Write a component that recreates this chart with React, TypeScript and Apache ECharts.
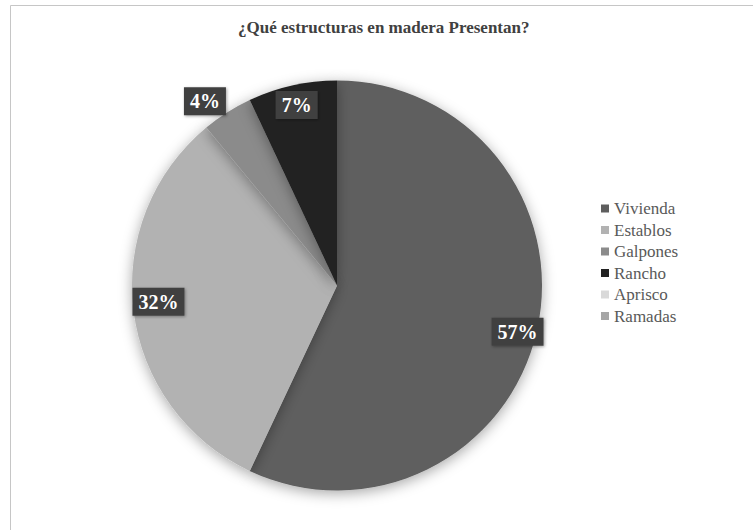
import React, { useEffect, useRef } from "react";
import * as echarts from "echarts";

const titleText = "¿Qué estructuras en madera Presentan?";
const categories = ["Vivienda", "Establos", "Galpones", "Rancho", "Aprisco", "Ramadas"];
const values = [57, 32, 4, 7, 0, 0];
const colors = ["#5e5e5e", "#b2b2b2", "#8b8b8b", "#222222", "#d9d9d9", "#a6a6a6"];
const outsideLabels = ["Galpones"];

const SERIF = "'Liberation Serif', 'Times New Roman', serif";

// fine nudges of label boxes (style only)
const labelNudge: Record<string, number[]> = {
  Vivienda: [0, 6],
  Establos: [5, -7],
  Galpones: [7, -6],
  Rancho: [0, 0],
};

export default function App() {
  const ref = useRef<HTMLDivElement>(null);
  useEffect(() => {
    if (!ref.current) return;
    const chart = echarts.init(ref.current, null, { renderer: "svg" });
    const labelStyle = {
      color: "#ffffff",
      fontFamily: SERIF,
      fontWeight: "bold" as const,
      fontSize: 20,
      backgroundColor: "#404040",
      padding: [5, 6, 3, 6],
      shadowBlur: 3,
      shadowColor: "rgba(0,0,0,0.35)",
      shadowOffsetX: 1,
      shadowOffsetY: 1,
      formatter: (p: any) => `${Math.round(p.percent)}%`,
    };
    const pieData = categories.map((name, i) => ({
      name,
      value: values[i],
      itemStyle: { color: colors[i] },
    }));
    const labelData = categories.map((name, i) => {
      const isOut = outsideLabels.includes(name);
      return {
        name,
        value: values[i],
        itemStyle: { color: "rgba(0,0,0,0)" },
        label: {
          show: values[i] > 0,
          position: isOut ? "outside" : "inside",
          offset: labelNudge[name] || [0, 0],
        },
        labelLine: { show: false, length: 6, length2: 0 },
      };
    });
    chart.setOption({
      animation: false,
      backgroundColor: "#ffffff",
      title: {
        text: titleText,
        left: 233,
        top: 14,
        textStyle: {
          fontFamily: SERIF,
          fontSize: 17,
          fontWeight: "bold",
          color: "#404040",
        },
      },
      legend: {
        orient: "vertical",
        left: 596,
        top: 195,
        icon: "rect",
        itemWidth: 8,
        itemHeight: 8,
        itemGap: 4.5,
        data: categories,
        textStyle: {
          fontFamily: SERIF,
          fontSize: 17,
          color: "#595959",
          lineHeight: 17,
        },
      },
      graphic: [
        {
          type: "rect",
          shape: { x: 10.5, y: 5.5, width: 800, height: 600 },
          style: { fill: "none", stroke: "#c6c6c6", lineWidth: 1 },
          silent: true,
          z: -10,
        },
      ],
      series: [
        {
          type: "pie",
          center: [337, 285.5],
          radius: [0, 205],
          startAngle: 90,
          clockwise: true,
          silent: true,
          label: { show: false },
          labelLine: { show: false },
          itemStyle: {
            shadowBlur: 14,
            shadowColor: "rgba(0,0,0,0.35)",
            shadowOffsetY: 3,
          },
          data: pieData,
        },
        {
          type: "pie",
          center: [337, 285.5],
          radius: [159, 205],
          startAngle: 90,
          clockwise: true,
          silent: true,
          z: 3,
          label: labelStyle,
          data: labelData,
        },
      ],
    });
    return () => chart.dispose();
  }, []);
  return (
    <div
      ref={ref}
      style={{ position: "fixed", left: 0, top: 0, width: 753, height: 530 }}
    />
  );
}
